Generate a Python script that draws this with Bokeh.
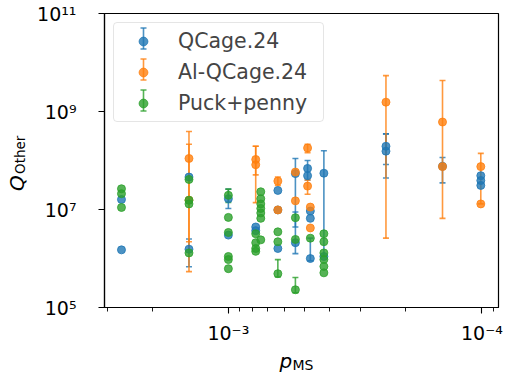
import math
from bokeh.plotting import figure
from bokeh.models import (Range1d, FixedTicker, CustomJSTickFormatter, Legend, LegendItem,
                          Whisker, TeeHead, ColumnDataSource, Div)
from bokeh.layouts import row, column
from bokeh.embed import file_html
from bokeh.resources import INLINE

nan = float("nan")

# ---------------- data ----------------
series_names = ["QCage.24", "Al-QCage.24", "Puck+penny"]
series_colors = ["#1f77b4", "#ff7f0e", "#2ca02c"]

p_qc = [2.64e-3, 2.64e-3, 1.43e-3, 1.43e-3, 1.0e-3, 1.0e-3, 7.8e-4, 7.8e-4,
        6.38e-4, 6.38e-4, 6.38e-4, 5.44e-4, 5.44e-4, 4.87e-4, 4.87e-4,
        4.75e-4, 4.75e-4, 4.75e-4, 4.2e-4, 4.2e-4, 2.39e-4, 2.39e-4,
        1.43e-4, 1.01e-4, 1.01e-4, 1.01e-4]
q_qc = [1.6e7, 1.5e6, 4.6e7, 1.55e6, 1.66e7, 3.0e6, 4.4e6, 3.7e6,
        2.45e7, 9.8e6, 1.6e6, 5.4e7, 2.1e6, 6.9e7, 4.9e7,
        9.3e6, 6.6e6, 1.0e6, 5.5e7, 1.1e6, 1.95e8, 1.55e8,
        7.6e7, 4.9e7, 3.9e7, 3.1e7]
lo_qc = [nan, nan, nan, 6.8e5, 1.05e7, nan, nan, nan,
         nan, nan, nan, 4.4e6, 1.26e6, 4.0e7, nan,
         nan, nan, 9.0e5, 1.1e6, nan, 4.4e7, 8.3e7,
         3.5e7, nan, nan, nan]
hi_qc = [nan, nan, nan, 2.5e6, 2.6e7, nan, nan, nan,
         nan, nan, nan, 1.1e8, 8.9e6, 1.0e8, nan,
         nan, nan, 2.6e6, 1.58e8, nan, 3.5e8, 3.5e8,
         1.15e8, nan, nan, nan]

p_al = [1.43e-3, 1.43e-3, 7.8e-4, 7.8e-4, 6.38e-4, 6.38e-4, 5.44e-4, 5.44e-4,
        4.87e-4, 4.87e-4, 4.75e-4, 4.75e-4, 2.39e-4, 1.43e-4, 1.43e-4,
        1.01e-4, 1.01e-4]
q_al = [1.1e8, 1.55e7, 1.05e8, 8.2e7, 3.8e7, 9.8e6, 5.8e7, 1.5e7,
        1.8e8, 3.0e7, 1.12e7, 4.2e6, 1.55e9, 6.1e8, 7.5e7,
        7.5e7, 1.3e7]
lo_al = [5.4e5, 2.2e6, 5.1e7, 1.38e7, 3.1e7, nan, nan, nan,
         1.45e8, 2.05e7, nan, nan, 2.6e6, 6.6e6, nan,
         1.3e7, nan]
hi_al = [3.9e8, 2.15e8, 1.95e8, 1.95e8, 4.6e7, nan, nan, nan,
         2.15e8, 4.0e7, nan, nan, 5.4e9, 4.3e9, nan,
         1.4e8, nan]

p_pp = [2.64e-3, 2.64e-3, 2.64e-3,
        1.43e-3, 1.43e-3, 1.43e-3, 1.43e-3,
        1.0e-3, 1.0e-3, 1.0e-3, 1.0e-3, 1.0e-3, 1.0e-3,
        7.8e-4, 7.8e-4, 7.8e-4, 7.8e-4,
        7.45e-4, 7.45e-4, 7.45e-4, 7.45e-4, 7.45e-4, 7.45e-4, 7.45e-4,
        6.38e-4, 6.38e-4, 6.38e-4,
        5.44e-4, 5.44e-4, 5.44e-4,
        4.75e-4,
        4.2e-4, 4.2e-4, 4.2e-4, 4.2e-4, 4.2e-4, 4.2e-4]
q_pp = [2.65e7, 2.1e7, 1.1e7,
        4.1e7, 1.55e7, 1.3e7, 1.3e6,
        1.95e7, 6.9e6, 3.4e6, 1.1e6, 9.5e5, 6.2e5,
        3.2e6, 2.1e6, 1.6e6, 1.4e6,
        2.3e7, 1.66e7, 1.3e7, 1.05e7, 8.5e6, 6.6e6, 2.4e6,
        3.5e6, 2.2e6, 4.9e5,
        6.8e6, 2.45e6, 2.3e5,
        2.6e6,
        3.2e6, 2.2e6, 1.3e6, 9.5e5, 6.9e5, 5.1e5]
lo_pp = [nan, nan, nan,
         nan, nan, nan, nan,
         1.4e7, nan, nan, nan, nan, nan,
         nan, nan, nan, nan,
         nan, nan, nan, nan, nan, nan, nan,
         nan, nan, 4.2e5,
         nan, nan, 2.0e5,
         nan,
         nan, nan, nan, nan, nan, nan]
hi_pp = [nan, nan, nan,
         nan, nan, nan, nan,
         2.6e7, nan, nan, nan, nan, nan,
         nan, nan, nan, nan,
         nan, nan, nan, nan, nan, nan, nan,
         nan, nan, 9.5e5,
         nan, nan, 4.1e5,
         nan,
         nan, nan, nan, nan, nan, nan]

x_major = [1e-3, 1e-4]
x_minor = [3e-3, 2e-3, 9e-4, 8e-4, 7e-4, 6e-4, 5e-4, 4e-4, 3e-4, 2e-4, 9e-5]
y_major = [1e5, 1e7, 1e9, 1e11]

series = [(p_qc, q_qc, lo_qc, hi_qc), (p_al, q_al, lo_al, hi_al), (p_pp, q_pp, lo_pp, hi_pp)]

# ---------------- figure ----------------
FONT = "DejaVu Sans"
p = figure(width=478, height=346, x_axis_type="log", y_axis_type="log",
           x_range=Range1d(3.08e-3, 8.6e-5), y_range=Range1d(1e5, 1e11),
           output_backend="svg", toolbar_location=None,
           min_border_left=66, min_border_right=14, min_border_top=13, min_border_bottom=36)
p.background_fill_color = "white"
p.border_fill_color = "white"
p.outline_line_color = "black"
p.outline_line_width = 1.2
p.outline_line_alpha = 1.0
p.xgrid.visible = False
p.ygrid.visible = False

fmt_code = """
const e = Math.round(Math.log10(tick));
const sup = {'-':'\u207b','0':'\u2070','1':'\u00b9','2':'\u00b2','3':'\u00b3','4':'\u2074','5':'\u2075','6':'\u2076','7':'\u2077','8':'\u2078','9':'\u2079'};
return '10' + String(e).split('').map(c => sup[c]).join('');
"""
p.xaxis.ticker = FixedTicker(ticks=x_major, minor_ticks=x_minor)
p.yaxis.ticker = FixedTicker(ticks=y_major, minor_ticks=[])
for ax in (p.xaxis[0], p.yaxis[0]):
    ax.formatter = CustomJSTickFormatter(code=fmt_code)
    ax.major_label_text_font = FONT
    ax.major_label_text_font_size = "19px"
    ax.major_label_text_color = "black"
    ax.axis_line_color = "black"
    ax.axis_line_width = 1.2
    ax.major_tick_line_color = "black"
    ax.minor_tick_line_color = "black"
    ax.major_tick_line_width = 1.1
    ax.minor_tick_line_width = 0.9
    ax.major_tick_out = 6
    ax.major_tick_in = 0
    ax.minor_tick_out = 4
    ax.minor_tick_in = 0
p.xaxis.major_label_standoff = 8
p.yaxis.major_label_standoff = 22

# error bars (all series first), then markers
for (xs, qs, los, his), col in zip(series, series_colors):
    ex = [x for x, l in zip(xs, los) if not math.isnan(l)]
    elo = [l for l in los if not math.isnan(l)]
    ehi = [h for h in his if not math.isnan(h)]
    p.segment(x0=ex, y0=elo, x1=ex, y1=ehi, line_color=col, line_width=1.6, line_alpha=0.8)
    p.scatter(x=ex + ex, y=elo + ehi, marker="dash", size=6, line_color=col,
              line_width=1.6, line_alpha=0.8)

marker_renderers = []
for (xs, qs, los, his), col in zip(series, series_colors):
    r = p.scatter(x=xs, y=qs, marker="circle", size=8, fill_color=col, line_color=col,
                  fill_alpha=0.8, line_alpha=0.8, line_width=1)
    marker_renderers.append(r)

# legend error-bar glyphs (screen units, inside the legend box)
leg_row_centers = [269, 238, 207]   # px above the frame bottom
for col, yc in zip(series_colors, leg_row_centers):
    src = ColumnDataSource(data=dict(base=[39], lower=[yc - 10.5], upper=[yc + 10.5]))
    w = Whisker(source=src, base="base", lower="lower", upper="upper", dimension="height",
                base_units="screen", lower_units="screen", upper_units="screen",
                line_color=col, line_width=1.6, line_alpha=0.8,
                upper_head=TeeHead(size=6, line_color=col, line_width=1.6, line_alpha=0.8),
                lower_head=TeeHead(size=6, line_color=col, line_width=1.6, line_alpha=0.8))
    p.add_layout(w)

items = [LegendItem(label=n, renderers=[r]) for n, r in zip(series_names, marker_renderers)]
legend = Legend(items=items, location="top_left", margin=9, padding=6, spacing=7,
                glyph_width=46, glyph_height=22, label_standoff=12, label_height=22,
                label_width=139,
                label_text_font=FONT, label_text_font_size="20.5px",
                border_line_color="#cccccc", border_line_width=1,
                background_fill_alpha=0.0)
try:
    legend.border_radius = 4
except Exception:
    pass
p.add_layout(legend)

# axis labels with subscripts (real text in HTML)
xlab = Div(width=478, height=32, margin=0, text=(
    "<div style=\"position:relative;width:478px;height:32px;font-family:'DejaVu Sans';color:black;\">"
    "<span style=\"position:absolute;left:245.5px;top:5px;font-size:20px;line-height:20px;"
    "font-style:italic;white-space:nowrap;\">p</span>"
    "<span style=\"position:absolute;left:258.5px;top:11.5px;font-size:14px;line-height:14px;"
    "white-space:nowrap;\">MS</span></div>"))
ylab = Div(width=34, height=378, margin=0, text=(
    "<div style=\"position:relative;width:34px;height:378px;font-family:'DejaVu Sans';color:black;\">"
    "<span style=\"position:absolute;left:6.6px;top:191px;font-size:20px;line-height:20px;"
    "font-style:italic;white-space:nowrap;transform-origin:0 0;transform:rotate(-90deg);\">Q</span>"
    "<span style=\"position:absolute;left:14.1px;top:174px;font-size:13.5px;line-height:13.5px;"
    "white-space:nowrap;transform-origin:0 0;transform:rotate(-90deg);\">Other</span></div>"))

layout = row(ylab, column(p, xlab, spacing=0), spacing=0)
open("out.html", "w").write(file_html(layout, INLINE))
